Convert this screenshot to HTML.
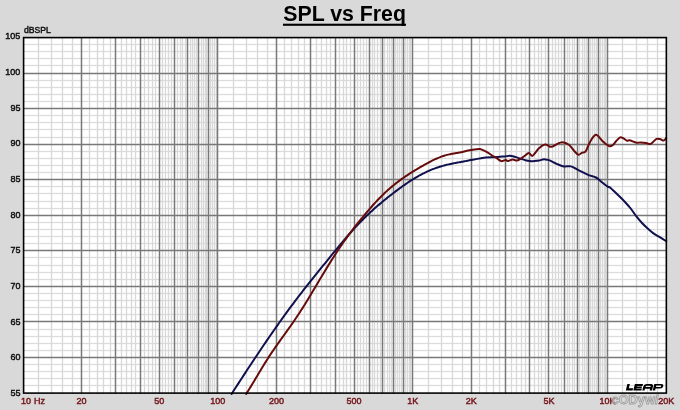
<!DOCTYPE html>
<html><head><meta charset="utf-8"><style>
html,body{margin:0;padding:0;background:#d9d9d9;}
body{width:680px;height:410px;overflow:hidden;position:relative;}
svg{position:absolute;left:0;top:0;will-change:transform;}
text{font-family:"Liberation Sans",sans-serif;}
</style></head><body>
<svg width="680" height="410" viewBox="0 0 680 410">
<rect x="0" y="0" width="680" height="410" fill="#d9d9d9"/>
<rect x="23" y="37" width="644" height="357" fill="#ffffff"/>
<rect x="23" y="384.85" width="644" height="1.3" fill="#dcdcdc"/>
<rect x="23" y="377.85" width="644" height="1.3" fill="#dcdcdc"/>
<rect x="23" y="370.85" width="644" height="1.3" fill="#dcdcdc"/>
<rect x="23" y="363.85" width="644" height="1.3" fill="#dcdcdc"/>
<rect x="23" y="349.85" width="644" height="1.3" fill="#dcdcdc"/>
<rect x="23" y="342.85" width="644" height="1.3" fill="#dcdcdc"/>
<rect x="23" y="335.85" width="644" height="1.3" fill="#dcdcdc"/>
<rect x="23" y="328.85" width="644" height="1.3" fill="#dcdcdc"/>
<rect x="23" y="313.85" width="644" height="1.3" fill="#dcdcdc"/>
<rect x="23" y="306.85" width="644" height="1.3" fill="#dcdcdc"/>
<rect x="23" y="299.85" width="644" height="1.3" fill="#dcdcdc"/>
<rect x="23" y="292.85" width="644" height="1.3" fill="#dcdcdc"/>
<rect x="23" y="278.85" width="644" height="1.3" fill="#dcdcdc"/>
<rect x="23" y="271.85" width="644" height="1.3" fill="#dcdcdc"/>
<rect x="23" y="264.85" width="644" height="1.3" fill="#dcdcdc"/>
<rect x="23" y="256.85" width="644" height="1.3" fill="#dcdcdc"/>
<rect x="23" y="242.85" width="644" height="1.3" fill="#dcdcdc"/>
<rect x="23" y="235.85" width="644" height="1.3" fill="#dcdcdc"/>
<rect x="23" y="228.85" width="644" height="1.3" fill="#dcdcdc"/>
<rect x="23" y="221.85" width="644" height="1.3" fill="#dcdcdc"/>
<rect x="23" y="207.85" width="644" height="1.3" fill="#dcdcdc"/>
<rect x="23" y="200.85" width="644" height="1.3" fill="#dcdcdc"/>
<rect x="23" y="192.85" width="644" height="1.3" fill="#dcdcdc"/>
<rect x="23" y="185.85" width="644" height="1.3" fill="#dcdcdc"/>
<rect x="23" y="171.85" width="644" height="1.3" fill="#dcdcdc"/>
<rect x="23" y="164.85" width="644" height="1.3" fill="#dcdcdc"/>
<rect x="23" y="157.85" width="644" height="1.3" fill="#dcdcdc"/>
<rect x="23" y="150.85" width="644" height="1.3" fill="#dcdcdc"/>
<rect x="23" y="136.85" width="644" height="1.3" fill="#dcdcdc"/>
<rect x="23" y="128.85" width="644" height="1.3" fill="#dcdcdc"/>
<rect x="23" y="121.85" width="644" height="1.3" fill="#dcdcdc"/>
<rect x="23" y="114.85" width="644" height="1.3" fill="#dcdcdc"/>
<rect x="23" y="100.85" width="644" height="1.3" fill="#dcdcdc"/>
<rect x="23" y="93.85" width="644" height="1.3" fill="#dcdcdc"/>
<rect x="23" y="86.85" width="644" height="1.3" fill="#dcdcdc"/>
<rect x="23" y="79.85" width="644" height="1.3" fill="#dcdcdc"/>
<rect x="23" y="64.85" width="644" height="1.3" fill="#dcdcdc"/>
<rect x="23" y="57.85" width="644" height="1.3" fill="#dcdcdc"/>
<rect x="23" y="50.85" width="644" height="1.3" fill="#dcdcdc"/>
<rect x="23" y="43.85" width="644" height="1.3" fill="#dcdcdc"/>
<rect x="37.85" y="37" width="1.3" height="357" fill="#d8d8d8"/>
<rect x="50.85" y="37" width="1.3" height="357" fill="#d8d8d8"/>
<rect x="61.85" y="37" width="1.3" height="357" fill="#d8d8d8"/>
<rect x="71.85" y="37" width="1.3" height="357" fill="#d8d8d8"/>
<rect x="88.85" y="37" width="1.3" height="357" fill="#d8d8d8"/>
<rect x="96.85" y="37" width="1.3" height="357" fill="#d8d8d8"/>
<rect x="102.85" y="37" width="1.3" height="357" fill="#d8d8d8"/>
<rect x="109.85" y="37" width="1.3" height="357" fill="#d8d8d8"/>
<rect x="120.85" y="37" width="1.3" height="357" fill="#d8d8d8"/>
<rect x="125.85" y="37" width="1.3" height="357" fill="#d8d8d8"/>
<rect x="130.85" y="37" width="1.3" height="357" fill="#d8d8d8"/>
<rect x="134.85" y="37" width="1.3" height="357" fill="#d8d8d8"/>
<rect x="143.85" y="37" width="1.3" height="357" fill="#d8d8d8"/>
<rect x="147.85" y="37" width="1.3" height="357" fill="#d8d8d8"/>
<rect x="151.85" y="37" width="1.3" height="357" fill="#d8d8d8"/>
<rect x="154.85" y="37" width="1.3" height="357" fill="#d8d8d8"/>
<rect x="161.85" y="37" width="1.3" height="357" fill="#d8d8d8"/>
<rect x="164.85" y="37" width="1.3" height="357" fill="#d8d8d8"/>
<rect x="167.85" y="37" width="1.3" height="357" fill="#d8d8d8"/>
<rect x="170.85" y="37" width="1.3" height="357" fill="#d8d8d8"/>
<rect x="176.85" y="37" width="1.3" height="357" fill="#d8d8d8"/>
<rect x="179.85" y="37" width="1.3" height="357" fill="#d8d8d8"/>
<rect x="181.85" y="37" width="1.3" height="357" fill="#d8d8d8"/>
<rect x="184.85" y="37" width="1.3" height="357" fill="#d8d8d8"/>
<rect x="189.85" y="37" width="1.3" height="357" fill="#d8d8d8"/>
<rect x="191.85" y="37" width="1.3" height="357" fill="#d8d8d8"/>
<rect x="193.85" y="37" width="1.3" height="357" fill="#d8d8d8"/>
<rect x="195.85" y="37" width="1.3" height="357" fill="#d8d8d8"/>
<rect x="200.85" y="37" width="1.3" height="357" fill="#d8d8d8"/>
<rect x="202.85" y="37" width="1.3" height="357" fill="#d8d8d8"/>
<rect x="204.85" y="37" width="1.3" height="357" fill="#d8d8d8"/>
<rect x="205.85" y="37" width="1.3" height="357" fill="#d8d8d8"/>
<rect x="209.85" y="37" width="1.3" height="357" fill="#d8d8d8"/>
<rect x="211.85" y="37" width="1.3" height="357" fill="#d8d8d8"/>
<rect x="213.85" y="37" width="1.3" height="357" fill="#d8d8d8"/>
<rect x="215.85" y="37" width="1.3" height="357" fill="#d8d8d8"/>
<rect x="232.85" y="37" width="1.3" height="357" fill="#d8d8d8"/>
<rect x="245.85" y="37" width="1.3" height="357" fill="#d8d8d8"/>
<rect x="256.85" y="37" width="1.3" height="357" fill="#d8d8d8"/>
<rect x="266.85" y="37" width="1.3" height="357" fill="#d8d8d8"/>
<rect x="283.85" y="37" width="1.3" height="357" fill="#d8d8d8"/>
<rect x="290.85" y="37" width="1.3" height="357" fill="#d8d8d8"/>
<rect x="297.85" y="37" width="1.3" height="357" fill="#d8d8d8"/>
<rect x="303.85" y="37" width="1.3" height="357" fill="#d8d8d8"/>
<rect x="315.85" y="37" width="1.3" height="357" fill="#d8d8d8"/>
<rect x="320.85" y="37" width="1.3" height="357" fill="#d8d8d8"/>
<rect x="325.85" y="37" width="1.3" height="357" fill="#d8d8d8"/>
<rect x="329.85" y="37" width="1.3" height="357" fill="#d8d8d8"/>
<rect x="338.85" y="37" width="1.3" height="357" fill="#d8d8d8"/>
<rect x="342.85" y="37" width="1.3" height="357" fill="#d8d8d8"/>
<rect x="345.85" y="37" width="1.3" height="357" fill="#d8d8d8"/>
<rect x="349.85" y="37" width="1.3" height="357" fill="#d8d8d8"/>
<rect x="356.85" y="37" width="1.3" height="357" fill="#d8d8d8"/>
<rect x="359.85" y="37" width="1.3" height="357" fill="#d8d8d8"/>
<rect x="362.85" y="37" width="1.3" height="357" fill="#d8d8d8"/>
<rect x="365.85" y="37" width="1.3" height="357" fill="#d8d8d8"/>
<rect x="371.85" y="37" width="1.3" height="357" fill="#d8d8d8"/>
<rect x="373.85" y="37" width="1.3" height="357" fill="#d8d8d8"/>
<rect x="376.85" y="37" width="1.3" height="357" fill="#d8d8d8"/>
<rect x="379.85" y="37" width="1.3" height="357" fill="#d8d8d8"/>
<rect x="383.85" y="37" width="1.3" height="357" fill="#d8d8d8"/>
<rect x="386.85" y="37" width="1.3" height="357" fill="#d8d8d8"/>
<rect x="388.85" y="37" width="1.3" height="357" fill="#d8d8d8"/>
<rect x="390.85" y="37" width="1.3" height="357" fill="#d8d8d8"/>
<rect x="394.85" y="37" width="1.3" height="357" fill="#d8d8d8"/>
<rect x="396.85" y="37" width="1.3" height="357" fill="#d8d8d8"/>
<rect x="398.85" y="37" width="1.3" height="357" fill="#d8d8d8"/>
<rect x="400.85" y="37" width="1.3" height="357" fill="#d8d8d8"/>
<rect x="404.85" y="37" width="1.3" height="357" fill="#d8d8d8"/>
<rect x="406.85" y="37" width="1.3" height="357" fill="#d8d8d8"/>
<rect x="408.85" y="37" width="1.3" height="357" fill="#d8d8d8"/>
<rect x="409.85" y="37" width="1.3" height="357" fill="#d8d8d8"/>
<rect x="427.85" y="37" width="1.3" height="357" fill="#d8d8d8"/>
<rect x="440.85" y="37" width="1.3" height="357" fill="#d8d8d8"/>
<rect x="451.85" y="37" width="1.3" height="357" fill="#d8d8d8"/>
<rect x="461.85" y="37" width="1.3" height="357" fill="#d8d8d8"/>
<rect x="478.85" y="37" width="1.3" height="357" fill="#d8d8d8"/>
<rect x="485.85" y="37" width="1.3" height="357" fill="#d8d8d8"/>
<rect x="492.85" y="37" width="1.3" height="357" fill="#d8d8d8"/>
<rect x="498.85" y="37" width="1.3" height="357" fill="#d8d8d8"/>
<rect x="510.85" y="37" width="1.3" height="357" fill="#d8d8d8"/>
<rect x="515.85" y="37" width="1.3" height="357" fill="#d8d8d8"/>
<rect x="520.85" y="37" width="1.3" height="357" fill="#d8d8d8"/>
<rect x="524.85" y="37" width="1.3" height="357" fill="#d8d8d8"/>
<rect x="533.85" y="37" width="1.3" height="357" fill="#d8d8d8"/>
<rect x="537.85" y="37" width="1.3" height="357" fill="#d8d8d8"/>
<rect x="540.85" y="37" width="1.3" height="357" fill="#d8d8d8"/>
<rect x="544.85" y="37" width="1.3" height="357" fill="#d8d8d8"/>
<rect x="551.85" y="37" width="1.3" height="357" fill="#d8d8d8"/>
<rect x="554.85" y="37" width="1.3" height="357" fill="#d8d8d8"/>
<rect x="557.85" y="37" width="1.3" height="357" fill="#d8d8d8"/>
<rect x="560.85" y="37" width="1.3" height="357" fill="#d8d8d8"/>
<rect x="566.85" y="37" width="1.3" height="357" fill="#d8d8d8"/>
<rect x="568.85" y="37" width="1.3" height="357" fill="#d8d8d8"/>
<rect x="571.85" y="37" width="1.3" height="357" fill="#d8d8d8"/>
<rect x="573.85" y="37" width="1.3" height="357" fill="#d8d8d8"/>
<rect x="578.85" y="37" width="1.3" height="357" fill="#d8d8d8"/>
<rect x="581.85" y="37" width="1.3" height="357" fill="#d8d8d8"/>
<rect x="583.85" y="37" width="1.3" height="357" fill="#d8d8d8"/>
<rect x="585.85" y="37" width="1.3" height="357" fill="#d8d8d8"/>
<rect x="589.85" y="37" width="1.3" height="357" fill="#d8d8d8"/>
<rect x="591.85" y="37" width="1.3" height="357" fill="#d8d8d8"/>
<rect x="593.85" y="37" width="1.3" height="357" fill="#d8d8d8"/>
<rect x="595.85" y="37" width="1.3" height="357" fill="#d8d8d8"/>
<rect x="599.85" y="37" width="1.3" height="357" fill="#d8d8d8"/>
<rect x="601.85" y="37" width="1.3" height="357" fill="#d8d8d8"/>
<rect x="603.85" y="37" width="1.3" height="357" fill="#d8d8d8"/>
<rect x="604.85" y="37" width="1.3" height="357" fill="#d8d8d8"/>
<rect x="621.85" y="37" width="1.3" height="357" fill="#d8d8d8"/>
<rect x="635.85" y="37" width="1.3" height="357" fill="#d8d8d8"/>
<rect x="646.85" y="37" width="1.3" height="357" fill="#d8d8d8"/>
<rect x="656.85" y="37" width="1.3" height="357" fill="#d8d8d8"/>
<rect x="23" y="356.75" width="644" height="1.5" fill="#787878"/>
<rect x="23" y="320.75" width="644" height="1.5" fill="#787878"/>
<rect x="23" y="285.75" width="644" height="1.5" fill="#787878"/>
<rect x="23" y="249.75" width="644" height="1.5" fill="#787878"/>
<rect x="23" y="214.75" width="644" height="1.5" fill="#787878"/>
<rect x="23" y="178.75" width="644" height="1.5" fill="#787878"/>
<rect x="23" y="143.75" width="644" height="1.5" fill="#787878"/>
<rect x="23" y="107.75" width="644" height="1.5" fill="#787878"/>
<rect x="23" y="72.75" width="644" height="1.5" fill="#787878"/>
<rect x="80.75" y="37" width="1.5" height="357" fill="#787878"/>
<rect x="114.75" y="37" width="1.5" height="357" fill="#787878"/>
<rect x="139.75" y="37" width="1.5" height="357" fill="#787878"/>
<rect x="158.75" y="37" width="1.5" height="357" fill="#787878"/>
<rect x="173.75" y="37" width="1.5" height="357" fill="#787878"/>
<rect x="186.75" y="37" width="1.5" height="357" fill="#787878"/>
<rect x="197.75" y="37" width="1.5" height="357" fill="#787878"/>
<rect x="207.75" y="37" width="1.5" height="357" fill="#787878"/>
<rect x="216.75" y="37" width="1.5" height="357" fill="#787878"/>
<rect x="275.75" y="37" width="1.5" height="357" fill="#787878"/>
<rect x="309.75" y="37" width="1.5" height="357" fill="#787878"/>
<rect x="334.75" y="37" width="1.5" height="357" fill="#787878"/>
<rect x="353.75" y="37" width="1.5" height="357" fill="#787878"/>
<rect x="368.75" y="37" width="1.5" height="357" fill="#787878"/>
<rect x="381.75" y="37" width="1.5" height="357" fill="#787878"/>
<rect x="392.75" y="37" width="1.5" height="357" fill="#787878"/>
<rect x="402.75" y="37" width="1.5" height="357" fill="#787878"/>
<rect x="411.75" y="37" width="1.5" height="357" fill="#787878"/>
<rect x="470.75" y="37" width="1.5" height="357" fill="#787878"/>
<rect x="504.75" y="37" width="1.5" height="357" fill="#787878"/>
<rect x="528.75" y="37" width="1.5" height="357" fill="#787878"/>
<rect x="547.75" y="37" width="1.5" height="357" fill="#787878"/>
<rect x="563.75" y="37" width="1.5" height="357" fill="#787878"/>
<rect x="576.75" y="37" width="1.5" height="357" fill="#787878"/>
<rect x="587.75" y="37" width="1.5" height="357" fill="#787878"/>
<rect x="597.75" y="37" width="1.5" height="357" fill="#787878"/>
<rect x="606.75" y="37" width="1.5" height="357" fill="#787878"/>
<path d="M231.60,393.94 C231.93,393.42 232.93,391.87 233.60,390.83 C234.27,389.80 234.93,388.77 235.60,387.74 C236.27,386.70 236.93,385.67 237.60,384.64 C238.27,383.61 238.93,382.59 239.60,381.56 C240.27,380.53 240.93,379.51 241.60,378.48 C242.27,377.46 242.93,376.43 243.60,375.41 C244.27,374.39 244.93,373.37 245.60,372.35 C246.27,371.33 246.93,370.32 247.60,369.30 C248.27,368.29 248.93,367.27 249.60,366.26 C250.27,365.25 250.93,364.24 251.60,363.23 C252.27,362.22 252.93,361.21 253.60,360.21 C254.27,359.20 254.93,358.20 255.60,357.20 C256.27,356.20 256.93,355.20 257.60,354.21 C258.27,353.21 258.93,352.21 259.60,351.22 C260.27,350.23 260.93,349.24 261.60,348.25 C262.27,347.27 262.93,346.28 263.60,345.30 C264.27,344.31 264.93,343.33 265.60,342.36 C266.27,341.38 266.93,340.40 267.60,339.43 C268.27,338.46 268.93,337.49 269.60,336.52 C270.27,335.55 270.93,334.59 271.60,333.63 C272.27,332.66 272.93,331.70 273.60,330.75 C274.27,329.79 274.93,328.84 275.60,327.89 C276.27,326.94 276.93,325.99 277.60,325.05 C278.27,324.10 278.93,323.16 279.60,322.22 C280.27,321.28 280.93,320.35 281.60,319.42 C282.27,318.49 282.93,317.56 283.60,316.63 C284.27,315.71 284.93,314.79 285.60,313.87 C286.27,312.95 286.93,312.04 287.60,311.13 C288.27,310.21 288.93,309.31 289.60,308.40 C290.27,307.50 290.93,306.60 291.60,305.70 C292.27,304.81 292.93,303.91 293.60,303.03 C294.27,302.14 294.93,301.25 295.60,300.37 C296.27,299.49 296.93,298.61 297.60,297.74 C298.27,296.87 298.93,296.00 299.60,295.13 C300.27,294.26 300.93,293.40 301.60,292.54 C302.27,291.68 302.93,290.83 303.60,289.97 C304.27,289.12 304.93,288.27 305.60,287.42 C306.27,286.57 306.93,285.73 307.60,284.88 C308.27,284.04 308.93,283.20 309.60,282.36 C310.27,281.52 310.93,280.69 311.60,279.85 C312.27,279.02 312.93,278.19 313.60,277.36 C314.27,276.53 314.93,275.70 315.60,274.87 C316.27,274.04 316.93,273.22 317.60,272.39 C318.27,271.56 318.93,270.74 319.60,269.92 C320.27,269.09 320.93,268.27 321.60,267.45 C322.27,266.63 322.93,265.81 323.60,264.99 C324.27,264.17 324.93,263.35 325.60,262.53 C326.27,261.71 326.93,260.89 327.60,260.07 C328.27,259.25 328.93,258.43 329.60,257.62 C330.27,256.80 330.93,255.98 331.60,255.17 C332.27,254.35 332.93,253.54 333.60,252.73 C334.27,251.91 334.93,251.10 335.60,250.29 C336.27,249.48 336.93,248.68 337.60,247.87 C338.27,247.06 338.93,246.26 339.60,245.46 C340.27,244.66 340.93,243.86 341.60,243.06 C342.27,242.27 342.93,241.48 343.60,240.69 C344.27,239.90 344.93,239.12 345.60,238.34 C346.27,237.56 346.93,236.78 347.60,236.01 C348.27,235.24 348.93,234.48 349.60,233.72 C350.27,232.96 350.93,232.20 351.60,231.46 C352.27,230.71 352.93,229.97 353.60,229.24 C354.27,228.50 354.93,227.77 355.60,227.05 C356.27,226.33 356.93,225.62 357.60,224.91 C358.27,224.21 358.93,223.51 359.60,222.82 C360.27,222.13 360.93,221.45 361.60,220.77 C362.27,220.09 362.93,219.43 363.60,218.77 C364.27,218.10 364.93,217.45 365.60,216.80 C366.27,216.16 366.93,215.52 367.60,214.88 C368.27,214.25 368.93,213.62 369.60,213.00 C370.27,212.38 370.93,211.77 371.60,211.16 C372.27,210.55 372.93,209.95 373.60,209.35 C374.27,208.75 374.93,208.16 375.60,207.58 C376.27,206.99 376.93,206.41 377.60,205.84 C378.27,205.26 378.93,204.69 379.60,204.13 C380.27,203.56 380.93,203.00 381.60,202.45 C382.27,201.89 382.93,201.34 383.60,200.80 C384.27,200.25 384.93,199.71 385.60,199.17 C386.27,198.63 386.93,198.10 387.60,197.57 C388.27,197.04 388.93,196.52 389.60,195.99 C390.27,195.47 390.93,194.95 391.60,194.44 C392.27,193.92 392.93,193.41 393.60,192.90 C394.27,192.39 394.93,191.88 395.60,191.38 C396.27,190.88 396.93,190.38 397.60,189.88 C398.27,189.38 398.93,188.89 399.60,188.40 C400.27,187.92 400.93,187.43 401.60,186.95 C402.27,186.47 402.93,186.00 403.60,185.53 C404.27,185.06 404.93,184.59 405.60,184.13 C406.27,183.67 406.93,183.22 407.60,182.77 C408.27,182.32 408.93,181.88 409.60,181.44 C410.27,181.01 410.93,180.57 411.60,180.15 C412.27,179.73 412.93,179.31 413.60,178.90 C414.27,178.48 414.93,178.08 415.60,177.68 C416.27,177.28 416.93,176.89 417.60,176.51 C418.27,176.13 418.93,175.75 419.60,175.39 C420.27,175.02 420.93,174.66 421.60,174.31 C422.27,173.96 422.93,173.61 423.60,173.28 C424.27,172.95 424.93,172.62 425.60,172.30 C426.27,171.99 426.93,171.68 427.60,171.38 C428.27,171.08 428.93,170.79 429.60,170.50 C430.27,170.22 430.93,169.94 431.60,169.68 C432.27,169.41 432.93,169.15 433.60,168.90 C434.27,168.64 434.93,168.40 435.60,168.16 C436.27,167.92 436.93,167.69 437.60,167.47 C438.27,167.25 438.93,167.03 439.60,166.82 C440.27,166.61 440.93,166.41 441.60,166.21 C442.27,166.02 442.93,165.83 443.60,165.65 C444.27,165.46 444.93,165.29 445.60,165.11 C446.27,164.94 446.93,164.78 447.60,164.62 C448.27,164.46 448.93,164.31 449.60,164.16 C450.27,164.01 450.93,163.87 451.60,163.73 C452.27,163.59 452.93,163.45 453.60,163.32 C454.27,163.19 454.93,163.06 455.60,162.93 C456.27,162.81 456.93,162.68 457.60,162.56 C458.27,162.44 458.93,162.32 459.60,162.20 C460.27,162.07 460.93,161.96 461.60,161.84 C462.27,161.71 462.93,161.60 463.60,161.47 C464.27,161.35 464.93,161.23 465.60,161.11 C466.27,160.98 466.93,160.86 467.60,160.73 C468.27,160.60 466.53,160.85 469.60,160.33 C472.67,159.81 481.97,158.12 486.00,157.60 C490.03,157.08 491.47,157.35 493.80,157.20 C496.13,157.05 498.15,156.82 500.00,156.70 C501.85,156.58 503.27,156.67 504.90,156.50 C506.53,156.33 508.18,155.67 509.80,155.70 C511.42,155.73 512.98,156.25 514.60,156.70 C516.22,157.15 517.87,157.87 519.50,158.40 C521.13,158.93 522.77,159.45 524.40,159.90 C526.03,160.35 527.68,160.90 529.30,161.10 C530.92,161.30 532.48,161.18 534.10,161.10 C535.72,161.02 537.37,160.92 539.00,160.60 C540.63,160.28 542.43,159.32 543.90,159.20 C545.37,159.08 546.50,159.55 547.80,159.90 C549.10,160.25 550.23,160.65 551.70,161.30 C553.17,161.95 554.58,162.95 556.60,163.80 C558.62,164.65 561.38,165.97 563.80,166.40 C566.22,166.83 568.67,165.77 571.10,166.40 C573.53,167.03 575.47,168.75 578.40,170.20 C581.33,171.65 585.77,173.88 588.70,175.10 C591.63,176.32 593.80,176.32 596.00,177.50 C598.20,178.68 599.95,180.68 601.90,182.20 C603.85,183.72 606.25,185.63 607.70,186.60 C609.15,187.57 608.82,186.53 610.60,188.00 C612.38,189.47 615.97,193.03 618.40,195.40 C620.83,197.77 623.08,199.93 625.20,202.20 C627.32,204.47 629.30,206.72 631.10,209.00 C632.90,211.28 634.22,213.62 636.00,215.90 C637.78,218.18 639.85,220.60 641.80,222.70 C643.75,224.80 645.75,226.72 647.70,228.50 C649.65,230.28 651.55,232.00 653.50,233.40 C655.45,234.80 657.28,235.60 659.40,236.90 C661.52,238.20 665.07,240.48 666.20,241.20" fill="none" stroke="#10104e" stroke-width="2" stroke-linejoin="round" stroke-linecap="round"/>
<path d="M246.20,393.90 C246.53,393.38 247.53,391.81 248.20,390.74 C248.87,389.68 249.53,388.60 250.20,387.52 C250.87,386.43 251.53,385.34 252.20,384.24 C252.87,383.14 253.53,382.03 254.20,380.92 C254.87,379.81 255.53,378.70 256.20,377.58 C256.87,376.47 257.53,375.35 258.20,374.24 C258.87,373.12 259.53,372.01 260.20,370.90 C260.87,369.79 261.53,368.68 262.20,367.59 C262.87,366.49 263.53,365.40 264.20,364.31 C264.87,363.23 265.53,362.16 266.20,361.10 C266.87,360.04 267.53,358.98 268.20,357.95 C268.87,356.91 269.53,355.89 270.20,354.88 C270.87,353.87 271.53,352.87 272.20,351.89 C272.87,350.90 273.53,349.92 274.20,348.95 C274.87,347.98 275.53,347.03 276.20,346.07 C276.87,345.12 277.53,344.17 278.20,343.23 C278.87,342.29 279.53,341.36 280.20,340.42 C280.87,339.49 281.53,338.56 282.20,337.63 C282.87,336.71 283.53,335.78 284.20,334.86 C284.87,333.93 285.53,333.01 286.20,332.08 C286.87,331.15 287.53,330.22 288.20,329.29 C288.87,328.35 289.53,327.42 290.20,326.48 C290.87,325.54 291.53,324.59 292.20,323.63 C292.87,322.68 293.53,321.72 294.20,320.75 C294.87,319.78 295.53,318.80 296.20,317.81 C296.87,316.82 297.53,315.82 298.20,314.81 C298.87,313.80 299.53,312.78 300.20,311.74 C300.87,310.71 301.53,309.66 302.20,308.61 C302.87,307.56 303.53,306.49 304.20,305.42 C304.87,304.35 305.53,303.27 306.20,302.19 C306.87,301.10 307.53,300.01 308.20,298.91 C308.87,297.82 309.53,296.71 310.20,295.61 C310.87,294.50 311.53,293.39 312.20,292.28 C312.87,291.16 313.53,290.05 314.20,288.93 C314.87,287.81 315.53,286.69 316.20,285.57 C316.87,284.45 317.53,283.33 318.20,282.21 C318.87,281.09 319.53,279.97 320.20,278.85 C320.87,277.73 321.53,276.62 322.20,275.51 C322.87,274.39 323.53,273.28 324.20,272.18 C324.87,271.08 325.53,269.98 326.20,268.88 C326.87,267.79 327.53,266.70 328.20,265.62 C328.87,264.54 329.53,263.47 330.20,262.40 C330.87,261.34 331.53,260.28 332.20,259.23 C332.87,258.18 333.53,257.14 334.20,256.10 C334.87,255.07 335.53,254.04 336.20,253.02 C336.87,252.01 337.53,251.00 338.20,249.99 C338.87,248.99 339.53,248.00 340.20,247.02 C340.87,246.03 341.53,245.06 342.20,244.09 C342.87,243.12 343.53,242.16 344.20,241.22 C344.87,240.27 345.53,239.33 346.20,238.40 C346.87,237.47 347.53,236.54 348.20,235.63 C348.87,234.72 349.53,233.82 350.20,232.93 C350.87,232.03 351.53,231.15 352.20,230.28 C352.87,229.40 353.53,228.54 354.20,227.69 C354.87,226.83 355.53,225.99 356.20,225.15 C356.87,224.31 357.53,223.48 358.20,222.65 C358.87,221.83 359.53,221.01 360.20,220.20 C360.87,219.39 361.53,218.58 362.20,217.78 C362.87,216.97 363.53,216.18 364.20,215.38 C364.87,214.58 365.53,213.79 366.20,213.00 C366.87,212.21 367.53,211.43 368.20,210.65 C368.87,209.87 369.53,209.09 370.20,208.32 C370.87,207.55 371.53,206.79 372.20,206.03 C372.87,205.28 373.53,204.53 374.20,203.79 C374.87,203.05 375.53,202.32 376.20,201.61 C376.87,200.89 377.53,200.18 378.20,199.49 C378.87,198.79 379.53,198.10 380.20,197.43 C380.87,196.75 381.53,196.09 382.20,195.44 C382.87,194.78 383.53,194.14 384.20,193.50 C384.87,192.87 385.53,192.24 386.20,191.63 C386.87,191.02 387.53,190.41 388.20,189.82 C388.87,189.22 389.53,188.64 390.20,188.06 C390.87,187.49 391.53,186.92 392.20,186.36 C392.87,185.81 393.53,185.26 394.20,184.72 C394.87,184.18 395.53,183.65 396.20,183.13 C396.87,182.61 397.53,182.09 398.20,181.59 C398.87,181.08 399.53,180.59 400.20,180.10 C400.87,179.61 401.53,179.13 402.20,178.65 C402.87,178.18 403.53,177.71 404.20,177.25 C404.87,176.79 405.53,176.34 406.20,175.89 C406.87,175.44 407.53,175.00 408.20,174.56 C408.87,174.13 409.53,173.70 410.20,173.27 C410.87,172.85 411.53,172.43 412.20,172.01 C412.87,171.60 413.53,171.19 414.20,170.78 C414.87,170.38 415.53,169.98 416.20,169.58 C416.87,169.18 417.53,168.79 418.20,168.40 C418.87,168.01 419.53,167.63 420.20,167.24 C420.87,166.86 421.53,166.48 422.20,166.10 C422.87,165.73 423.53,165.35 424.20,164.98 C424.87,164.61 425.53,164.24 426.20,163.87 C426.87,163.50 427.53,163.14 428.20,162.78 C428.87,162.43 429.53,162.07 430.20,161.72 C430.87,161.38 431.53,161.03 432.20,160.70 C432.87,160.36 433.53,160.04 434.20,159.72 C434.87,159.40 435.53,159.09 436.20,158.78 C436.87,158.48 437.53,158.19 438.20,157.91 C438.87,157.63 439.53,157.36 440.20,157.10 C440.87,156.84 441.53,156.59 442.20,156.35 C442.87,156.12 443.53,155.90 444.20,155.69 C444.87,155.48 445.53,155.29 446.20,155.11 C446.87,154.93 447.53,154.77 448.20,154.61 C448.87,154.46 449.53,154.32 450.20,154.18 C450.87,154.04 451.53,153.92 452.20,153.80 C452.87,153.67 453.53,153.56 454.20,153.44 C454.87,153.33 455.53,153.22 456.20,153.11 C456.87,152.99 457.53,152.88 458.20,152.77 C458.87,152.65 459.53,152.53 460.20,152.41 C460.87,152.28 461.53,152.15 462.20,152.01 C462.87,151.87 463.53,151.73 464.20,151.56 C464.87,151.40 465.53,151.23 466.20,151.05 C466.87,150.86 466.05,150.77 468.20,150.44 C470.35,150.12 476.95,149.27 479.10,149.10 C481.25,148.93 479.63,148.82 481.10,149.40 C482.57,149.98 485.95,151.50 487.90,152.60 C489.85,153.70 491.50,155.20 492.80,156.00 C494.10,156.80 494.40,156.58 495.70,157.40 C497.00,158.22 499.40,160.32 500.60,160.90 C501.80,161.48 502.02,161.07 502.90,160.90 C503.78,160.73 505.08,159.87 505.90,159.90 C506.72,159.93 506.67,161.18 507.80,161.10 C508.93,161.02 511.23,159.48 512.70,159.40 C514.17,159.32 515.30,160.68 516.60,160.60 C517.90,160.52 519.20,159.67 520.50,158.90 C521.80,158.13 523.02,156.98 524.40,156.00 C525.78,155.02 527.50,153.00 528.80,153.00 C530.10,153.00 531.15,156.00 532.20,156.00 C533.25,156.00 533.97,154.30 535.10,153.00 C536.23,151.70 537.45,149.60 539.00,148.20 C540.55,146.80 542.93,145.10 544.40,144.60 C545.87,144.10 546.90,144.85 547.80,145.20 C548.70,145.55 548.90,146.53 549.80,146.70 C550.70,146.87 552.07,146.60 553.20,146.20 C554.33,145.80 555.08,144.95 556.60,144.30 C558.12,143.65 560.25,142.22 562.30,142.30 C564.35,142.38 566.95,143.40 568.90,144.80 C570.85,146.20 572.42,149.03 574.00,150.70 C575.58,152.37 577.05,154.48 578.40,154.80 C579.75,155.12 580.88,153.17 582.10,152.60 C583.32,152.03 584.37,153.18 585.70,151.40 C587.03,149.62 588.42,144.67 590.10,141.90 C591.78,139.13 593.83,135.05 595.80,134.80 C597.77,134.55 600.28,138.90 601.90,140.40 C603.52,141.90 604.27,142.83 605.50,143.80 C606.73,144.77 608.12,145.95 609.30,146.20 C610.48,146.45 611.48,146.12 612.60,145.30 C613.72,144.48 614.80,142.58 616.00,141.30 C617.20,140.02 618.68,138.17 619.80,137.60 C620.92,137.03 621.50,137.37 622.70,137.90 C623.90,138.43 625.88,140.40 627.00,140.80 C628.12,141.20 627.82,139.98 629.40,140.30 C630.98,140.62 634.67,142.35 636.50,142.70 C638.33,143.05 638.80,142.35 640.40,142.40 C642.00,142.45 644.52,142.72 646.10,143.00 C647.68,143.28 648.78,144.23 649.90,144.10 C651.02,143.97 651.68,143.07 652.80,142.20 C653.92,141.33 655.40,139.42 656.60,138.90 C657.80,138.38 658.80,138.83 660.00,139.10 C661.20,139.37 662.77,140.70 663.80,140.50 C664.83,140.30 665.80,138.33 666.20,137.90" fill="none" stroke="#660c0c" stroke-width="2" stroke-linejoin="round" stroke-linecap="round"/>
<rect x="23.6" y="37.6" width="642.75" height="355.50" fill="none" stroke="#000" stroke-width="1.6"/>
<g font-size="9" font-weight="normal" fill="#111" stroke="#111" stroke-width="0.45">
<text x="20.4" y="395.8" text-anchor="end">55</text>
<text x="20.4" y="360.1" text-anchor="end">60</text>
<text x="20.4" y="324.5" text-anchor="end">65</text>
<text x="20.4" y="288.8" text-anchor="end">70</text>
<text x="20.4" y="253.2" text-anchor="end">75</text>
<text x="20.4" y="217.5" text-anchor="end">80</text>
<text x="20.4" y="181.9" text-anchor="end">85</text>
<text x="20.4" y="146.2" text-anchor="end">90</text>
<text x="20.4" y="110.6" text-anchor="end">95</text>
<text x="20.4" y="74.9" text-anchor="end">100</text>
<text x="20.4" y="39.3" text-anchor="end">105</text>
<text x="24" y="32.6" font-size="8.6">dBSPL</text>
</g>
<g font-size="9" font-weight="normal" fill="#74161c" stroke="#74161c" stroke-width="0.45">
<text x="21" y="404">10</text><text x="34" y="404">Hz</text>
<text x="81.6" y="404" text-anchor="middle">20</text>
<text x="159.2" y="404" text-anchor="middle">50</text>
<text x="217.8" y="404" text-anchor="middle">100</text>
<text x="276.5" y="404" text-anchor="middle">200</text>
<text x="354.0" y="404" text-anchor="middle">500</text>
<text x="412.7" y="404" text-anchor="middle">1K</text>
<text x="471.3" y="404" text-anchor="middle">2K</text>
<text x="548.9" y="404" text-anchor="middle">5K</text>
<text x="607.5" y="404" text-anchor="middle">10K</text>
<text x="666.2" y="404" text-anchor="middle">20K</text>
</g>
<text x="344.6" y="21.4" text-anchor="middle" font-size="21.3" font-weight="bold" fill="#000">SPL vs Freq</text>
<g transform="translate(627.4,384.0) skewX(-14)" fill="#000">
<path d="M0,0 h2.5 v4.3 h4.3 v2.1 h-6.8 z"/>
<path d="M7.5,0 h8.1 v1.9 h-5.6 v0.55 h5.2 v1.5 h-5.2 v0.55 h5.6 v1.9 h-8.1 z"/>
<path fill-rule="evenodd" d="M16.5,6.4 v-3.7 q0,-2.7 2.7,-2.7 h4.3 q2.7,0 2.7,2.7 v3.7 h-2.4 v-1.6 h-5 v1.6 z M18.9,3.1 h5 v-0.4 q0,-1 -1,-1 h-3 q-1,0 -1,1 z"/>
<path fill-rule="evenodd" d="M26.9,0 h6.9 q2.6,0 2.6,2.3 q0,2.3 -2.6,2.3 h-4.5 v1.8 h-2.4 z M29.3,1.55 h4.3 q0.8,0 0.8,0.75 q0,0.75 -0.8,0.75 h-4.3 z"/>
</g>
<text x="611.5" y="404" font-size="13" font-weight="bold" fill="#ececec" fill-opacity="0.6" stroke="#8c8c8c" stroke-opacity="0.8" stroke-width="0.9" textLength="47" lengthAdjust="spacingAndGlyphs">cODyw/</text>
<rect x="283" y="23.7" width="123" height="2.1" fill="#000"/>
</svg>
</body></html>
